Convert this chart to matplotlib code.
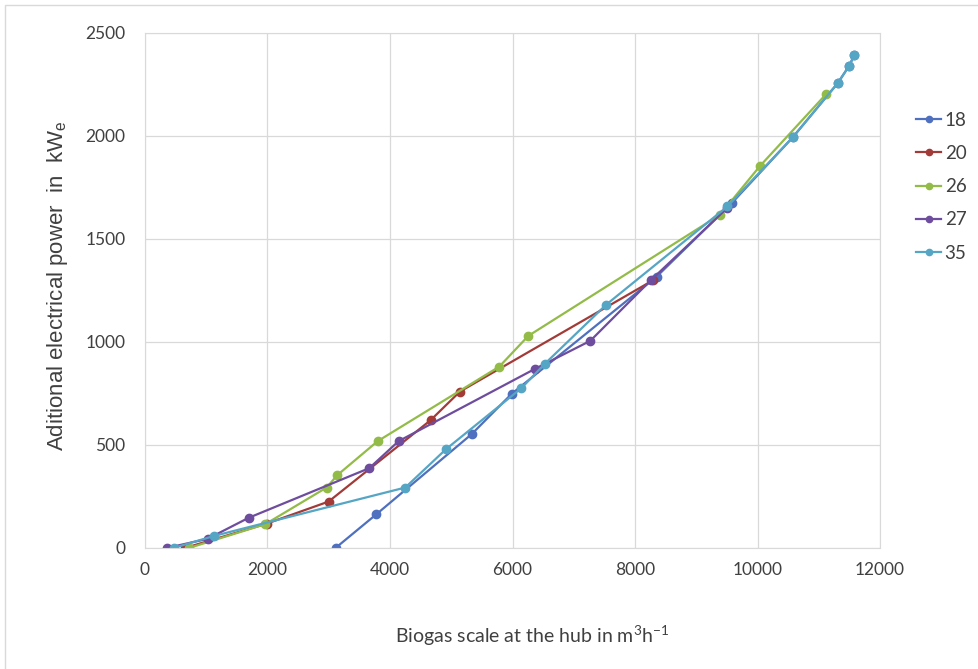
import matplotlib
matplotlib.use('Agg')
import matplotlib.pyplot as plt
from matplotlib.patches import Rectangle

plt.rcParams['mathtext.fontset'] = 'custom'
plt.rcParams['mathtext.rm'] = 'Lato'

# Biogas flow at the hub (m3/h) vs additional electrical power (kWe), per scenario
labels = ['18', '20', '26', '27', '35']

x_18 = [3113, 3777, 5333, 5987, 8354, 9578, 10575, 11309, 11498, 11580]
y_18 = [0, 163, 552, 748, 1317, 1673, 1993, 2256, 2341, 2393]

x_20 = [658, 1990, 2999, 4664, 5143, 8300]
y_20 = [0, 118, 225, 620, 759, 1300]

x_26 = [723, 1964, 2966, 3140, 3799, 5785, 6258, 9388, 10041, 11118]
y_26 = [0, 115, 293, 353, 518, 880, 1029, 1617, 1854, 2202]

x_27 = [364, 1023, 1693, 3662, 4141, 6367, 7270, 8261, 9507]
y_27 = [0, 44, 146, 387, 518, 869, 1005, 1300, 1650]

x_35 = [468, 1127, 4250, 4914, 6144, 6526, 7527, 9507, 10575, 11309, 11498, 11580]
y_35 = [0, 58, 293, 479, 775, 893, 1180, 1657, 1993, 2256, 2341, 2393]

series = [(x_18, y_18), (x_20, y_20), (x_26, y_26), (x_27, y_27), (x_35, y_35)]
colors = ['#4F6FBF', '#A23B38', '#93BB48', '#6E4C9E', '#55A5C4']

fig = plt.figure(figsize=(9.79, 6.69), dpi=100)
fig.patches.append(Rectangle((0.005, -0.01), 1.0, 1.003, transform=fig.transFigure,
                             fill=False, edgecolor='#D9D9D9', linewidth=1))
ax = fig.add_axes([0.148, 0.181, 0.751, 0.77])

for (xs, ys), lab, col in zip(series, labels, colors):
    ax.plot(xs, ys, '-', color=col, label=lab, marker='o', markersize=6, linewidth=1.6)

ax.set_xlim(0, 12000)
ax.set_ylim(0, 2500)
ax.set_xticks(range(0, 12001, 2000))
ax.set_yticks(range(0, 2501, 500))
ax.grid(True, color='#D9D9D9', linewidth=0.9)
ax.set_axisbelow(True)
for s in ax.spines.values():
    s.set_color('#D9D9D9')
ax.tick_params(length=0, labelsize=12.5, labelcolor='#404040')
ax.tick_params(axis='y', pad=14)
ax.tick_params(axis='x', pad=10)
for t in ax.get_xticklabels() + ax.get_yticklabels():
    t.set_family('Lato')

ax.set_xlabel(r'Biogas scale at the hub in m$\mathregular{^{3}}$h$\mathregular{^{-1}}$',
              fontsize=14, color='#404040', family='Lato')
ax.xaxis.set_label_coords(0.527, -0.148)
ax.set_ylabel(r'Aditional electrical power  in  kW$\mathregular{_{e}}$', fontsize=16,
              color='#404040', family='Liberation Sans')
ax.yaxis.set_label_coords(-0.102, 0.509)

leg = fig.legend(loc='upper left', bbox_to_anchor=(909 / 979, 1 - 104 / 669), frameon=False,
                 fontsize=13.5, handlelength=1.3, handletextpad=0.2, labelspacing=0.87,
                 borderaxespad=0, markerscale=0.75)
for t in leg.get_texts():
    t.set_color('#404040')
    t.set_family('Lato')

plt.savefig('out.png', dpi=100)
plt.close()
